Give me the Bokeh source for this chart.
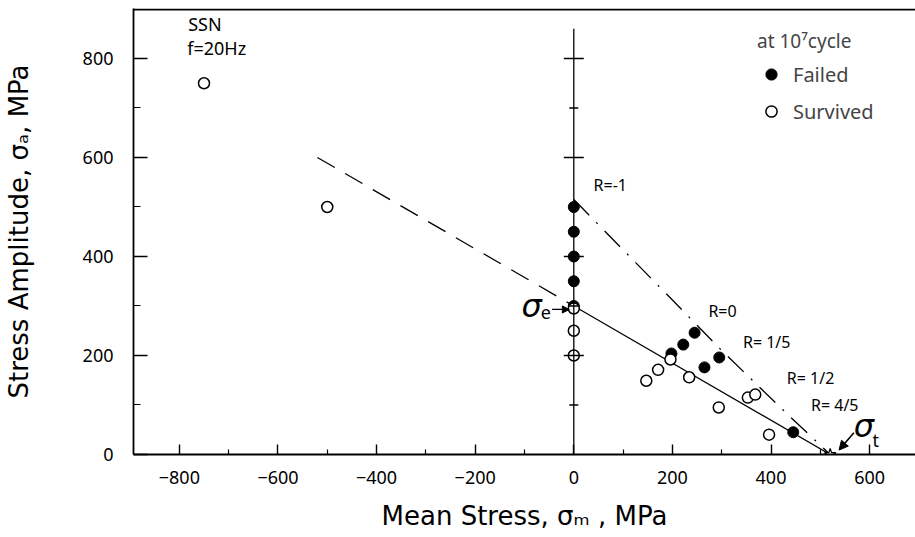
from bokeh.plotting import figure
from bokeh.models import (Range1d, FixedTicker, Span, Arrow, NormalHead, Legend,
                          LegendItem, Label)
from bokeh.embed import file_html
from bokeh.resources import INLINE

# ---- data ----
failed_x = [0, 0, 0, 0, 0, 198, 222, 245, 265, 295, 445]
failed_y = [500, 450, 400, 350, 300, 204, 222, 246, 176, 196, 45]

survived_x = [-750, -500, 0, 0, 0, 147, 171, 196, 234, 294, 353, 368, 396]
survived_y = [750, 500, 295, 250, 200, 149, 171, 192, 156, 95, 115, 121, 40]

goodman_solid_x = [0, 520]
goodman_solid_y = [300, 0]
goodman_dash_x = [-520, 0]
goodman_dash_y = [600, 300]

envelope_x = [0, 200, 300, 440, 520]
envelope_y = [515, 312, 210, 75, 0]

sigma_t_x = [520]
sigma_t_y = [0]

zero_line_x = [0, 0]
zero_line_y = [0, 860]
zero_major_ticks = [200, 400, 600, 800]
zero_minor_ticks = [100, 300, 500, 700]

x_ticks = [-800, -600, -400, -200, 0, 200, 400, 600]
x_minor = [-700, -500, -300, -100, 100, 300, 500]
y_ticks = [0, 200, 400, 600, 800]
y_minor = [100, 300, 500, 700]

TICK_FONT = "Noto Sans"
LABEL_FONT = "DejaVu Sans"
TEXT_FONT = "Noto Sans"

p = figure(width=915, height=537, x_range=Range1d(-893, 693), y_range=Range1d(0, 901),
           output_backend="svg", toolbar_location=None,
           min_border_left=130, min_border_right=0, min_border_top=8, min_border_bottom=83)
p.grid.visible = False
p.outline_line_color = None
p.background_fill_color = "white"

for ax in (p.xaxis[0], p.yaxis[0]):
    ax.axis_line_width = 1.8
    ax.major_tick_line_width = 1.4
    ax.minor_tick_line_width = 1.2
    ax.major_tick_out = 0
    ax.minor_tick_out = 0
    ax.major_label_text_font = TICK_FONT
    ax.major_label_text_font_size = "18px"
    ax.major_label_text_color = "black"
    ax.axis_label_text_font = LABEL_FONT
    ax.axis_label_text_font_size = "26px"
    ax.axis_label_text_font_style = "normal"
    ax.axis_label_text_color = "black"

p.xaxis.ticker = FixedTicker(ticks=x_ticks, minor_ticks=x_minor)
p.yaxis.ticker = FixedTicker(ticks=y_ticks, minor_ticks=y_minor)
p.xaxis.major_tick_in = 10
p.xaxis.minor_tick_in = 5
p.yaxis.major_tick_in = 14
p.yaxis.minor_tick_in = 7
p.xaxis.major_label_standoff = 16
p.yaxis.major_label_standoff = 20
p.xaxis.axis_label = "Mean Stress, σₘ , MPa"
p.yaxis.axis_label = "Stress Amplitude, σₐ, MPa"
p.xaxis.axis_label_standoff = 14
p.yaxis.axis_label_standoff = 46

p.add_layout(Span(location=899, dimension="width", line_color="black", line_width=1.8))

# lines
p.line(goodman_dash_x, goodman_dash_y, line_color="black", line_width=1.3, line_dash="20 12")
p.line(goodman_solid_x, goodman_solid_y, line_color="black", line_width=1.3)
p.line(envelope_x, envelope_y, line_color="black", line_width=1.3, line_dash="22 10 2 10")

# data points
r_f = p.scatter(failed_x, failed_y, marker="circle", size=11, fill_color="black", line_color="black")
r_s = p.scatter(survived_x, survived_y, marker="circle", size=11, fill_color="white",
                line_color="black", line_width=1.5)

# vertical zero line with cross ticks
p.line(zero_line_x, zero_line_y, line_color="black", line_width=1.3)
p.scatter([0] * len(zero_major_ticks), zero_major_ticks, marker="dash", size=20,
          line_color="black", line_width=1.3)
p.scatter([0] * len(zero_minor_ticks), zero_minor_ticks, marker="dash", size=9,
          line_color="black", line_width=1.3)

p.scatter(sigma_t_x, sigma_t_y, marker="star", size=12, fill_color="white", line_color="black",
          line_width=1.2)

# annotations
def lab(x, y, t, size="16px", style="normal", font=TEXT_FONT, align="left", base="middle"):
    p.add_layout(Label(x=x, y=y, text=t, text_font=font, text_font_size=size,
                       text_font_style=style, text_color="black", text_align=align,
                       text_baseline=base))

lab(-782, 869, "SSN", size="18px")
lab(-784, 822, "f=20Hz", size="18px")
lab(40, 545, "R=-1")
lab(273, 289, "R=0")
lab(343, 228, "R= 1/5")
lab(432, 154, "R= 1/2")
lab(481, 99, "R= 4/5")

lab(-106, 300, "σ", size="32px", style="italic", font="DejaVu Sans")
lab(-67, 286, "e", size="18px", font=TEXT_FONT)
lab(568, 58, "σ", size="32px", style="italic", font="DejaVu Sans")
lab(606, 30, "t", size="18px", font=TEXT_FONT)

p.add_layout(Arrow(end=NormalHead(size=7, fill_color="black", line_color="black"),
                   x_start=-44, y_start=293, x_end=-9, y_end=293,
                   line_color="black", line_width=1.2))
p.add_layout(Arrow(end=NormalHead(size=9, fill_color="black", line_color="black"),
                   x_start=568, y_start=44, x_end=538, y_end=9,
                   line_color="black", line_width=1.6))

legend = Legend(items=[LegendItem(label="Failed", renderers=[r_f]),
                       LegendItem(label="Survived", renderers=[r_s])],
                title="at 10⁷cycle", location=(624, 329))
legend.title_text_font = TEXT_FONT
legend.title_text_font_size = "19px"
legend.title_text_font_style = "normal"
legend.title_standoff = 6
legend.label_text_font = TEXT_FONT
legend.label_text_font_size = "20px"
legend.border_line_color = None
legend.background_fill_alpha = 0
legend.spacing = 9
legend.glyph_width = 28
legend.glyph_height = 28
legend.label_standoff = 8
legend.margin = 0
legend.padding = 4
p.add_layout(legend)

open("out.html", "w").write(file_html(p, INLINE))
